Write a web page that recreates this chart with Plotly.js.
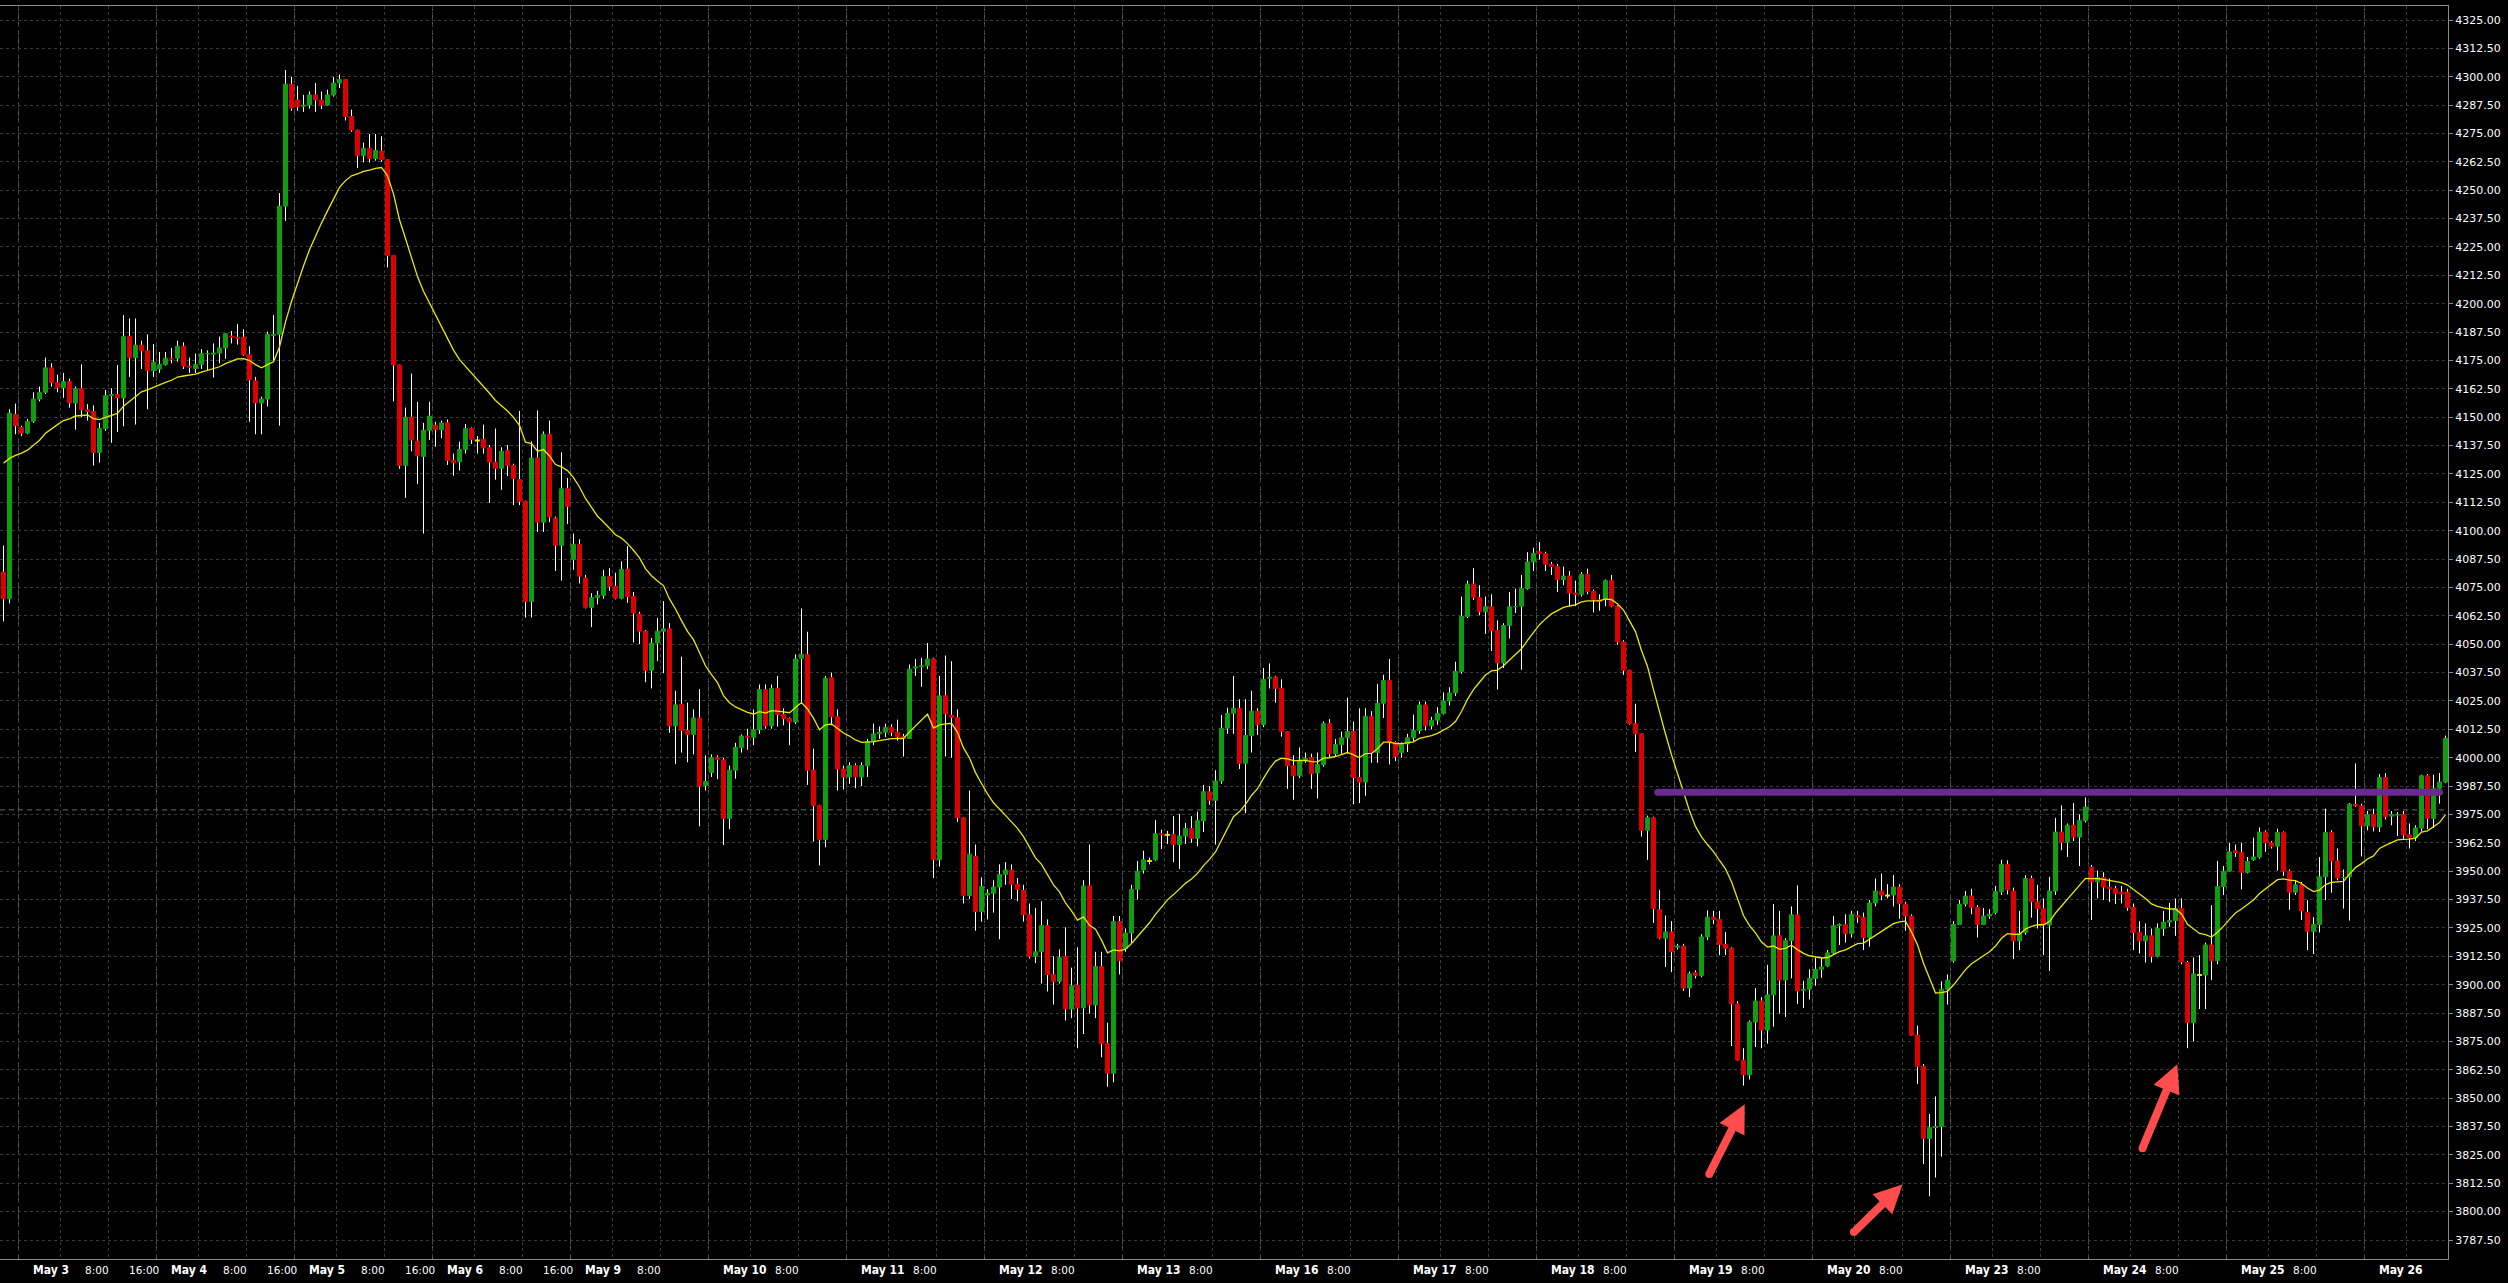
<!DOCTYPE html>
<html><head><meta charset="utf-8">
<script src="https://cdn.plot.ly/plotly-3.0.1.min.js"></script>
<style>html,body{margin:0;padding:0;background:#000;overflow:hidden}#chart{width:2508px;height:1283px}</style>
</head><body><div id="chart"></div>
<script>
// ---- hourly candles, ES futures, bar 0 = May 2 21:00, 23 bars per trading day ----
const openP = [
4081.75,4070,4151.25,4145.5,4143,4148.25,4158,4161,4171.75,4165.25,
4163,4165.75,4156.25,4162.5,4153.25,4152.5,4134.5,4145,4159.5,4160,
4158.5,4185.5,4176.25,4181.75,4179.25,4170.5,4171.25,4173.25,4176,4176,
4181.25,4172.5,4171.5,4173.25,4178,4177.75,4178.25,4180.5,4185.75,4185.25,
4185.25,4177.5,4166,4156.25,4158,4186,4186.5,4243,4296.75,4289.75,
4287,4287.5,4292,4289.75,4287.5,4292,4297.25,4298.75,4282.5,4276.5,
4265.25,4268.5,4264,4267.25,4263.5,4221.25,4173,4128.75,4150,4139.5,
4132.75,4144.25,4146.5,4144.5,4147.5,4131,4130.5,4135.75,4145,4139.75,
4140.25,4136.5,4130.25,4127.5,4135.25,4128.75,4122.5,4113,4068.75,4132,
4103.75,4142.5,4105.5,4093.5,4118.5,4087.25,4094,4079.25,4066.25,4070.5,
4071.5,4079.75,4075.5,4070.25,4083,4071,4063.25,4055.75,4038.5,4050.5,
4055.75,4056.75,4014,4023.5,4012,4010.25,4017.5,3987.75,3993.5,4000,
3999,3973.25,3994.5,4004.5,4009.5,4009,4012.25,4030,4014,4030.5,
4019,4017.25,4015.75,4043.75,4045.5,3994.5,3979,3964,4035.25,4018,
3995,3991.5,3996.5,3991.5,3996.5,4007,4010.5,4011.25,4013.25,4011.25,
4009.25,4008.5,4039.5,4040,4040.5,4043.5,3955,4027.25,4018.75,4017.75,
3973.5,3939.25,3956.5,3932.25,3939.5,3940.25,3943,3948.5,3950.5,3944.25,
3941.5,3930.75,3912.5,3914.5,3926,3904.5,3901.5,3912.5,3889.25,3899.75,
3889.75,3943.5,3891,3908,3874,3861,3927.75,3916,3922.75,3942,
3950.5,3954.5,3955,3966.5,3966,3966,3961.75,3965.5,3968.75,3964.5,
3972.25,3985,3981.25,3989.75,4013,4019.5,4021.75,3997.5,4009.75,4020.5,
4014.5,4035,4035.5,4030.5,4011.5,3996.5,3992,3999,4000,3993.25,
3997,4015,4001.75,4005.75,4008.75,4011.5,3991.25,3989.25,4018.25,4002.25,
4024,4034,4006.75,4002.25,4006,4008.75,4012,4023.25,4014,4016.5,
4019.5,4025,4028.5,4038,4062.25,4076.5,4070.5,4064.25,4066.5,4056,
4041.75,4058.25,4066.5,4066.75,4074.5,4086.25,4090.75,4090,4085.25,4084.25,
4078.5,4080,4072.5,4072,4080.75,4073.25,4069.5,4069.75,4078,4066.75,
4051,4038.5,4015,4010.5,3968,3973.5,3933,3920.5,3923.25,3916.5,
3917,3898.5,3905.25,3904,3921,3929.75,3928.75,3917.75,3916,3891.5,
3866.75,3860.25,3883.5,3892.75,3880,3895.5,3921.5,3902,3919.5,3930.75,
3897.5,3898,3902.75,3906.75,3908.25,3914,3926,3926.5,3922.5,3930.5,
3929.75,3920.75,3936,3941.25,3939.25,3939.5,3943,3935.5,3930.25,3877.75,
3864,3832.25,3837,3837.5,3898,3910.5,3926.5,3935.5,3939,3934,
3926.5,3930.25,3931.75,3941,3953,3941.25,3919.25,3923,3946.75,3936.5,
3933.5,3926.25,3941.25,3967.25,3962.75,3970.25,3965,3972.25,3951.75,3945.25,
3947.25,3943,3942.25,3940.75,3940.75,3934,3923,3919.25,3921.5,3912.5,
3924.75,3927.5,3928.25,3933.5,3909.75,3883.25,3904.25,3904.25,3917.5,3910.5,
3943.25,3950,3959,3958.25,3949.5,3955,3956.25,3967.25,3962.5,3961,
3967,3950,3940.75,3944,3931.75,3923.5,3926.5,3947.5,3967,3954.5,
3947.25,3947.5,3979.5,3978.75,3970,3975,3969.5,3991.25,3974.25,3974.75,
3975,3966,3964.75,3969,3992,3973.25,3986.5,3989.25];

const highP = [
4093.5,4153.5,4156,4146.25,4149.25,4161,4163.5,4176.25,4173.75,4168.75,
4169.5,4167,4163.5,4173.25,4155.75,4155.25,4147.5,4162,4162.75,4173,
4195,4193.5,4193.5,4183.75,4186.5,4182.25,4178.75,4178.75,4180.5,4183.75,
4183,4176.25,4178,4180,4179.5,4182.5,4185.5,4187,4188,4191,
4188.75,4181.25,4167.75,4159,4187.75,4195,4248.75,4303,4300,4296,
4292,4293.5,4297.25,4293.5,4294.25,4300,4301,4299,4285.5,4276.75,
4271,4274.75,4274.75,4273.75,4263.75,4221.5,4173.25,4154.25,4169.25,4156.75,
4147.5,4156.75,4148,4148.5,4149,4134,4139.25,4147,4145.5,4141.75,
4146.75,4137.75,4145,4136.75,4137.75,4129.5,4152.75,4113.25,4139.25,4153,
4143.75,4148.5,4106.25,4134.5,4123.25,4098.75,4096.25,4080.5,4072.5,4073.5,
4082.75,4083.5,4081.5,4086.5,4093.25,4073,4064.25,4056.25,4052.75,4061.5,
4069,4059.25,4029.5,4044.5,4024.25,4021.25,4030.25,4001,4001.5,4001,
4000,3996.5,4006.5,4010.25,4012.75,4021.25,4032.25,4032.25,4032.25,4036,
4021.75,4017.75,4045.5,4065.75,4055.5,4004,3979.25,4036,4037.5,4021.25,
3996.5,3998,3997.5,3998,4008.25,4015,4013.75,4015,4014.75,4016.75,
4010.5,4041,4043.5,4044,4050.5,4044,4036,4045,4042.5,4021.25,
3973.75,3985.5,3961.75,3947.25,3942,3946,3953,3954,3953,3947,
3944,3935.75,3933.75,3936.75,3928.75,3912.5,3915.5,3925.25,3907.5,3916.5,
3946,3961.75,3914.5,3914.5,3883.25,3930.25,3930.25,3924.75,3944,3954.5,
3959,3956,3972.5,3968.25,3967.75,3974.25,3975.25,3971.25,3974.25,3976.25,
3988,3987.5,3994.5,4018.75,4022,4036,4025.75,4025.75,4029.5,4021.75,
4039.5,4041.5,4036,4034.5,4011.75,4001,4004.5,4002.25,4001.75,4002.25,
4016,4017,4008.25,4011.5,4026.5,4016,4021.75,4021.75,4020.5,4032.5,
4036.5,4043.5,4007.25,4006.75,4010.5,4019,4024.75,4024.75,4018,4022.25,
4028.75,4031,4042.25,4071,4078,4083.5,4076,4071,4072,4060.5,
4059.25,4073,4074.5,4080.5,4090.5,4092.5,4095,4090.75,4086.25,4085.25,
4084.25,4082.25,4078,4081.75,4083.25,4074,4072,4078.5,4080.5,4067.25,
4051.75,4038.75,4023.75,4010.75,3974.5,3974,3941.75,3930.5,3928,3918,
3918,3905.75,3906.25,3922.25,3932.75,3932.5,3932.5,3923.25,3916.5,3892.75,
3872,3884.25,3898.5,3894.5,3908.75,3935.5,3932.5,3920.5,3934.5,3943.75,
3901.75,3906.75,3911.75,3912,3915.25,3930.25,3927,3931,3932.5,3932.5,
3931.75,3937.25,3946.75,3949,3944.25,3948.25,3944.25,3936.5,3931,3882,
3865,3843,3850.75,3901.5,3904.5,3928,3937.25,3941.25,3942.25,3935,
3933.75,3933.25,3943.5,3955,3954.75,3942.75,3932.5,3948.25,3948,3944,
3938,3947.5,3973.5,3979,3971,3980,3975,3982.5,3952.75,3950.25,
3949.5,3946.75,3943.5,3943.5,3942.25,3935.75,3928,3927,3924.75,3927,
3932.5,3936,3938,3938,3910.5,3912,3913,3918.5,3935,3954.5,
3952.25,3962.5,3961.75,3962.5,3956.25,3964.75,3969.25,3968,3963.25,3968.75,
3967.5,3950.75,3946,3945.25,3937.25,3929.75,3956.25,3977.5,3968,3960,
3950.75,3980,3997.5,3979.75,3976.5,3977.5,3992.75,3993.25,3976.5,3976,
3976.5,3971,3970.25,3992.5,3992.75,3992.5,3993.25,4009.75];

const lowP = [
4060,4068,4142.5,4141.75,4142.5,4147.5,4157,4160.25,4163.5,4161,
4158.5,4154.25,4144.5,4150,4148.5,4128.75,4130,4144,4138.75,4143.5,
4146,4167.75,4146.75,4171.25,4153.5,4167.75,4169.5,4172.75,4173.75,4174.5,
4171.25,4169.5,4169.5,4171.25,4170.5,4167.5,4173.75,4175.75,4182.5,4182,
4177,4148,4142.5,4142.5,4154.75,4175,4146.25,4236.5,4285,4285,
4284.5,4286,4284.5,4285.75,4287.25,4291.25,4295,4280.75,4275.75,4259.75,
4262.25,4262.25,4263,4262.5,4216,4157,4127.25,4114.5,4135,4120.5,
4098.75,4140,4137,4140.75,4129,4124.25,4126.5,4134,4138.25,4134,
4134,4112.25,4122.5,4118,4124,4111.25,4111.25,4061.75,4061.75,4099.5,
4099.5,4103.75,4082.25,4078,4103,4082.75,4076.75,4065.75,4057.5,4067.5,
4070,4073.5,4069.75,4069.75,4068.25,4050.75,4050,4033.25,4030.5,4042.5,
4037.25,4011,3997.25,4002.25,3998,4001.5,3969.75,3985.5,3991.5,3990.5,
3961.5,3968.5,3990.75,4002.25,4003.5,4005.5,4010.5,4012.75,4012.75,4013.75,
4014.25,4005.5,4014.75,4023.75,3988,3963,3952.5,3960.5,4014.25,3985.5,
3986,3988.5,3986.5,3987.5,3991.5,4005.5,4008.25,4009,4009.5,4007.5,
4000.5,4008.25,4036,4031.25,4039,3947,3952,4000.5,4000,3971.75,
3935.75,3937.75,3923.75,3927.75,3928.75,3931.75,3920,3944,3937.75,3936.75,
3927.75,3911.5,3909.5,3900.5,3897,3891.25,3900.5,3884.25,3885.25,3872,
3878.25,3887.25,3885.25,3868,3855,3857,3904.5,3914.5,3918.5,3937.5,
3949,3953,3954.5,3959.75,3962,3954,3951,3962,3962.5,3961,
3967.25,3979.25,3961.75,3988.5,4010.5,4010.5,3995,3975.5,4002.25,4010,
4013.5,4030.5,4024.25,4009.25,3986.25,3981.5,3991,3997.75,3986.25,3982,
3996,4000,4000.5,4001.75,4001.75,3979.5,3980,3983.25,3997.75,3997.75,
4017.5,3997,3998.5,4000,4002.5,4007.25,4010.5,4012,4012.5,4014.5,
4019,4023,4027.25,4037,4061.5,4069.5,4062.75,4054.5,4047,4030,
4039.5,4052.5,4063.75,4038.75,4074,4082.25,4087.25,4082.25,4080.5,4073,
4076,4066.75,4066.75,4071,4072,4064,4064.75,4066.75,4066.25,4049.75,
4036.5,4014.5,4002.5,3965.25,3955,3927.25,3920,3907.75,3905.5,3915.5,
3897.25,3894.5,3902.75,3903.25,3919.75,3926.75,3913,3913,3873,3866.5,
3855.5,3858.25,3872.5,3872,3874,3881.5,3887.25,3885.75,3902.75,3891.5,
3889.75,3893.5,3899.5,3903,3907.75,3913.5,3917.5,3918.5,3920.75,3927.25,
3915.25,3916.75,3934.5,3937.25,3938,3934.5,3929,3923.75,3877.5,3856.25,
3821,3806.75,3815,3824.25,3891.25,3909.75,3926.25,3934.5,3931,3920.75,
3926.25,3929,3931,3939.5,3939.75,3911.25,3915.25,3922,3929.5,3924.75,
3913,3906,3939.5,3959.25,3956.25,3963.25,3952.25,3971.5,3928.5,3938,
3937.25,3936.5,3935.5,3935.75,3932.5,3915.25,3913.75,3909.75,3909.75,3912,
3921.5,3925.5,3921.5,3909,3872,3875,3889.25,3889.25,3902,3909,
3939.5,3949.75,3956.25,3942,3949,3954.5,3955.5,3958.5,3960,3950.25,
3948,3933,3939.5,3928.5,3915.25,3913.5,3923,3937.25,3940.5,3946,
3933.5,3928.25,3978.25,3956.5,3968,3967.5,3967.25,3972.75,3970.25,3965.5,
3964.25,3960,3963.25,3967.5,3968.5,3969,3979.75,3988.75];

const closeP = [
4070,4151.75,4146.25,4143,4148.25,4158,4161,4171.75,4165.25,4163,
4165.75,4156.25,4162.5,4153.25,4152.5,4134.5,4145,4159.5,4160,4158.5,
4185.5,4176.25,4181.75,4179.25,4170.5,4174.25,4173.25,4176,4175.5,4181.25,
4172.5,4172,4173.25,4178,4178.25,4178.25,4180.5,4186.75,4185.25,4184.75,
4177.5,4166.5,4156.25,4158,4186.5,4186.5,4243,4296.75,4286.25,4286.75,
4287.5,4292,4289.75,4287.5,4292,4297.25,4298.75,4282.5,4276.5,4265.25,
4268.5,4264,4267.5,4263.5,4221.25,4173,4128.75,4150,4140,4133,
4144.25,4150.5,4144.5,4147.5,4131,4130,4135.75,4145,4140.25,4139.75,
4136.5,4130.25,4127.5,4135,4128.75,4123,4113,4068.75,4132,4103.75,
4142.5,4106,4093.5,4118.5,4110.75,4094,4080,4066.25,4070.5,4071.5,
4079.75,4075.5,4070.25,4083,4071,4063.75,4055.75,4038.5,4050.5,4055.75,
4056.75,4014,4023.25,4012,4010.25,4017.5,3987.5,3989.5,4000,3999.25,
3973.25,3994.5,4004.5,4009.5,4009,4012.25,4030,4014,4030.5,4019,
4017.25,4015.75,4043.5,4045.5,3994.5,3979,3964,4035,4018,3995,
3991.5,3996.5,3991.5,3996.5,4007,4010.5,4011.25,4013.25,4011.25,4009.25,
4008.5,4039,4040,4040.5,4043.5,3955,4027.25,4019.25,4017.75,3973.5,
3939.25,3957.5,3932.25,3943.25,3940.25,3943,3948.5,3950.5,3944.25,3942,
3930.75,3912.5,3914.5,3926,3904.5,3901.5,3912,3889.25,3899.5,3889.75,
3943.5,3891,3908,3874,3861,3927.75,3910.5,3922.75,3942,3950,
3955,3954.5,3966.5,3966,3966,3961.75,3965.5,3968.75,3964.5,3972.25,
3985,3981.25,3989.75,4013,4019.5,4021.75,3997.5,4009.75,4020.5,4014.5,
4034.5,4035.5,4030.5,4011.5,3996.5,3992,3999,3999.75,3993,3997,
4015,4001.75,4005.75,4008.75,4011.5,3991.25,3989.25,4018.25,4002.25,4024,
4034,4006.75,4000.5,4006,4008.75,4012,4023.25,4014,4016.5,4019.5,
4025,4028.5,4038,4062.25,4076.5,4070.5,4064.25,4066.5,4056,4041.75,
4058.25,4066.5,4066.75,4074.5,4086.25,4090,4090,4085.25,4084.25,4078.5,
4080,4072.5,4072,4080.75,4073.25,4069.5,4068.75,4078,4066.75,4051,
4038.5,4015,4010.5,3968,3973.5,3933.5,3920.5,3923.25,3914.5,3917,
3898.5,3904.75,3904,3921,3929.75,3928.75,3917.75,3916,3891.5,3866.75,
3860.25,3883.5,3892.75,3880,3895.5,3921.5,3902,3919.5,3930.75,3897.25,
3898,3902.75,3906.75,3907.75,3914,3926,3926.5,3922.5,3931,3929.75,
3920.75,3936,3941.25,3939.5,3939.25,3943,3935.75,3930.25,3877.75,3864,
3832.25,3837,3837.5,3898,3902,3926.5,3935.5,3939,3934,3926.5,
3930.25,3931,3941,3953,3941.75,3919.25,3922.5,3946.75,3936.5,3933.5,
3926.25,3941.25,3967.25,3962.75,3970.25,3965,3972.25,3978.25,3945.25,3947.25,
3943,3942.25,3940,3940,3934,3923,3919.25,3921.5,3912.5,3924.75,
3927.5,3928.25,3933.5,3910,3883.25,3904.75,3904.25,3917.5,3910.5,3943.25,
3950,3958.5,3958.25,3949.5,3954.25,3956.25,3967.25,3962.5,3961,3967,
3950,3940.75,3944,3932.5,3923.5,3926.5,3947.5,3967,3954.5,3947,
3947.5,3979.5,3978.75,3970,3975,3969.5,3991.25,3974,3975,3975,
3966,3964.75,3969,3992,3973.25,3986.5,3989.25,4008.5];

// ---- time axis ----
const dayLabels = ['May 3','May 4','May 5','May 6','May 9','May 10','May 11','May 12','May 13',
                   'May 16','May 17','May 18','May 19','May 20','May 23','May 24','May 25','May 26'];
const firstDayBar = 3;        // bar index of 1:00 on May 3
const barsPerDay = 23;
const hourGridOffsets = [7, 15];   // 8:00 and 16:00 grid lines
const hourLabels = ['8:00', '16:00'];
const daysWith16 = 4;              // 16:00 label shown only on the first four days

// ---- indicator / drawings ----
const emaPeriod = 20;
const emaSeed = 4129.75;           // MA value at the first visible bar
const resistanceLevel = 3984.75;
const resistanceFrom = 275.7, resistanceTo = 406.0;
const dashedLevel = 3977;
const arrowTailX = [284.3, 308.4, 356.5];
const arrowTailY = [3816.6, 3791.0, 3827.9];
const arrowTipX  = [290.2, 316.5, 362.3];
const arrowTipY  = [3847.3, 3811.9, 3864.9];

// ---- colours ----
const BULL = '#0f9e0f', BEAR = '#dc0000', DOJI = '#e8e800', WICK = '#ffffff';
const GRID = '#3a3a3a', SEP = '#5a5a5a', AXIS = '#8a8a8a';

const n = openP.length;
const hw = 0.335;

const wx = [], wy = [];
for (let i = 0; i < n; i++) { wx.push(i, i, null); wy.push(lowP[i], highP[i], null); }

function bodies(test) {
  const xs = [], ys = [];
  for (let i = 0; i < n; i++) {
    if (!test(i)) continue;
    const lo = Math.min(openP[i], closeP[i]), hi = Math.max(openP[i], closeP[i]);
    xs.push(i - hw, i + hw, i + hw, i - hw, i - hw, null);
    ys.push(lo, lo, hi, hi, lo, null);
  }
  return {xs, ys};
}
const up = bodies(i => closeP[i] > openP[i]);
const dn = bodies(i => closeP[i] < openP[i]);
const djx = [], djy = [];
for (let i = 0; i < n; i++) if (closeP[i] === openP[i]) { djx.push(i - 0.4, i + 0.4, null); djy.push(openP[i], openP[i], null); }

const kEma = 2 / (emaPeriod + 1);
const ema = []; let e = emaSeed;
for (let i = 0; i < n; i++) { if (i > 0) e = e + kEma * (closeP[i] - e); ema.push(e); }
const idx = Array.from({length: n}, (_, i) => i);

// grid positions (between bars)
const seps = dayLabels.map((_, k) => firstDayBar - 0.5 + barsPerDay * k);
const gridX = [];
seps.forEach(s => { gridX.push(s); hourGridOffsets.forEach(o => gridX.push(s + o)); });

const xr = [-0.5833, 407.4167];

const traces = [
  {x: wx, y: wy, mode: 'lines', line: {color: WICK, width: 1}, hoverinfo: 'skip'},
  {x: up.xs, y: up.ys, mode: 'lines', fill: 'toself', fillcolor: BULL, line: {color: BULL, width: 1}, hoverinfo: 'skip'},
  {x: dn.xs, y: dn.ys, mode: 'lines', fill: 'toself', fillcolor: BEAR, line: {color: BEAR, width: 1}, hoverinfo: 'skip'},
  {x: djx, y: djy, mode: 'lines', line: {color: DOJI, width: 2}, hoverinfo: 'skip'},
  {x: idx, y: ema, mode: 'lines', line: {color: DOJI, width: 1.3}, hoverinfo: 'skip'},
  {x: [resistanceFrom, resistanceTo], y: [resistanceLevel, resistanceLevel], mode: 'lines+markers',
   line: {color: '#6a2a8e', width: 7}, marker: {color: '#6a2a8e', size: 7}, hoverinfo: 'skip'},
  {x: arrowTailX, y: arrowTailY, mode: 'markers', marker: {color: '#ff4d4d', size: 8}, hoverinfo: 'skip'}
];

const shapes = seps.map(s => ({type: 'line', xref: 'x', yref: 'paper', x0: s, x1: s, y0: 0, y1: 1, layer: 'below',
  line: {color: SEP, width: 1, dash: '5px,3px'}}));
shapes.push({type: 'line', xref: 'paper', yref: 'y', x0: 0, x1: 1, y0: dashedLevel, y1: dashedLevel, layer: 'below',
  line: {color: '#6e6e6e', width: 1, dash: '5px,4px'}});

const annotations = [];
const dayFont = {family: 'DejaVu Sans Condensed, DejaVu Sans, sans-serif', size: 12, color: '#ffffff'};
const hourFont = {family: 'DejaVu Sans, sans-serif', size: 10.5, color: '#ffffff'};
seps.forEach((s, k) => {
  annotations.push({x: s + 2, y: 0, xref: 'x', yref: 'paper', xanchor: 'left', yanchor: 'top', yshift: -2,
    showarrow: false, text: '<b>' + dayLabels[k] + '</b>', font: dayFont});
  if (k < dayLabels.length - 1)
    annotations.push({x: s + hourGridOffsets[0] + 3.8, y: 0, xref: 'x', yref: 'paper', xanchor: 'left', yanchor: 'top', yshift: -3,
      showarrow: false, text: hourLabels[0], font: hourFont});
  if (k < daysWith16)
    annotations.push({x: s + hourGridOffsets[1] + 3.1, y: 0, xref: 'x', yref: 'paper', xanchor: 'left', yanchor: 'top', yshift: -3,
      showarrow: false, text: hourLabels[1], font: hourFont});
});
arrowTipX.forEach((tx, j) => annotations.push({
  x: tx, y: arrowTipY[j], ax: arrowTailX[j], ay: arrowTailY[j], xref: 'x', yref: 'y', axref: 'x', ayref: 'y',
  text: '', showarrow: true, arrowhead: 2, arrowsize: 0.7, arrowwidth: 8, arrowcolor: '#ff4d4d', standoff: 0
}));

const layout = {
  width: 2508, height: 1283,
  margin: {l: 0, r: 60, t: 6, b: 24, pad: 0},
  paper_bgcolor: '#000000', plot_bgcolor: '#000000',
  showlegend: false, hovermode: false,
  xaxis: {range: xr, tickvals: gridX, showticklabels: false, ticks: '', showgrid: true,
          gridcolor: GRID, griddash: '3px,3px', gridwidth: 1, zeroline: false,
          showline: true, linecolor: AXIS, linewidth: 1, mirror: true, fixedrange: true},
  yaxis: {side: 'right', range: [3779.13, 4331.17], tick0: 3787.5, dtick: 12.5, tickformat: '.2f',
          showgrid: true, gridcolor: GRID, griddash: '3px,3px', gridwidth: 1, zeroline: false,
          ticks: 'outside', ticklen: 4, tickcolor: AXIS, showline: true, linecolor: AXIS, linewidth: 1, mirror: true,
          tickfont: {family: 'DejaVu Sans, sans-serif', size: 11, color: '#ffffff'}, fixedrange: true},
  shapes: shapes,
  annotations: annotations
};

Plotly.newPlot('chart', traces, layout, {displayModeBar: false, staticPlot: true});
</script>
</body></html>
